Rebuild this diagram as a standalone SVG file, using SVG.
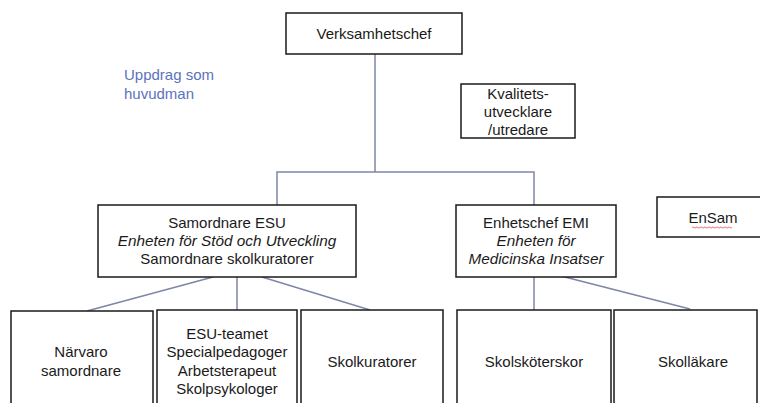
<svg xmlns="http://www.w3.org/2000/svg" width="760" height="403" viewBox="0 0 760 403">
<style>
rect.box{fill:#fff;stroke:#1a1a1a;stroke-width:1.5}
text{font-family:"Liberation Sans",Arial,sans-serif;font-size:15px;fill:#1a1a1a;text-anchor:middle}
text.it{font-style:italic;font-size:15.3px}
.conn line,.conn polyline{stroke:#7d86a6;stroke-width:1.5;fill:none}
text.note{fill:#5b72bd;text-anchor:start;font-size:15px}
</style>
<rect width="760" height="403" fill="#fff"/>
<g class="conn">
<polyline points="375,54 375,172"/>
<polyline points="277,205 277,172 534,172 534,205"/>
<line x1="213" y1="277" x2="87" y2="311"/>
<line x1="237" y1="277" x2="237" y2="310"/>
<line x1="262" y1="277" x2="370" y2="310"/>
<line x1="534" y1="277" x2="534" y2="310"/>
<line x1="557" y1="275" x2="690" y2="309"/>
</g>
<g id="note"><text class="note" x="124" y="80">Uppdrag som</text><text class="note" x="124" y="99">huvudman</text></g>
<g id="verksamhetschef"><rect class="box" x="286" y="13" width="176" height="41"/><text x="374" y="39">Verksamhetschef</text></g>
<g id="kvalitet"><rect class="box" x="461" y="84" width="114" height="54"/><text x="518" y="99">Kvalitets-</text><text x="518" y="117">utvecklare</text><text x="518" y="135">/utredare</text></g>
<g id="samordnare"><rect class="box" x="98" y="205" width="258" height="72"/><text x="227" y="228">Samordnare ESU</text><text class="it" x="227" y="246">Enheten för Stöd och Utveckling</text><text x="227" y="264">Samordnare skolkuratorer</text></g>
<g id="enhetschef"><rect class="box" x="456" y="205" width="160" height="72"/><text x="536" y="228">Enhetschef EMI</text><text class="it" x="536" y="246">Enheten för</text><text class="it" x="536" y="264">Medicinska Insatser</text></g>
<g id="ensam"><rect class="box" x="657" y="197" width="110" height="40"/><text x="713" y="223">EnSam</text><path d="M692,227.5 q1,-1.2 2,0 t2,0 t2,0 t2,0 t2,0 t2,0 t2,0 t2,0 t2,0 t2,0 t2,0 t2,0 t2,0 t2,0 t2,0 t2,0 t2,0 t2,0 t2,0 t2,0" fill="none" stroke="#e05050" stroke-width="0.8"/></g>
<g id="narvaro"><rect class="box" x="11" y="311" width="142" height="100"/><text x="81" y="357">Närvaro</text><text x="81" y="376">samordnare</text></g>
<g id="esuteamet"><rect class="box" x="157" y="310" width="140" height="100"/><text x="227" y="339">ESU-teamet</text><text x="227" y="357">Specialpedagoger</text><text x="227" y="376">Arbetsterapeut</text><text x="227" y="394">Skolpsykologer</text></g>
<g id="skolkuratorer"><rect class="box" x="301" y="310" width="142" height="100"/><text x="372" y="367">Skolkuratorer</text></g>
<g id="skolskoterskor"><rect class="box" x="457" y="310" width="154" height="100"/><text x="534" y="367">Skolsköterskor</text></g>
<g id="skollakare"><rect class="box" x="614" y="310" width="143" height="100"/><text x="693" y="367">Skolläkare</text></g>
</svg>
